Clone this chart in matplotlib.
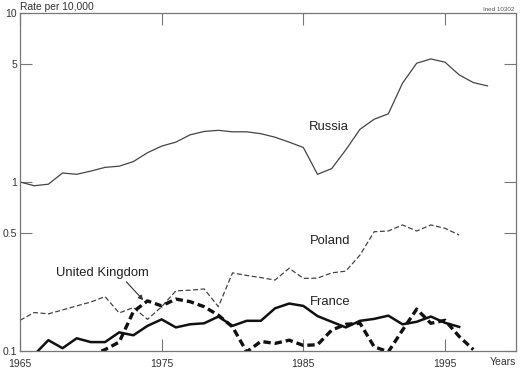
import matplotlib.pyplot as plt
from matplotlib.ticker import FixedLocator, NullLocator

plt.rcParams['font.family'] = ['Liberation Sans', 'DejaVu Sans']

# Russia 1965-1998
russia_years = list(range(1965, 1999))
russia = [1.00, 0.95, 0.97, 1.13, 1.11, 1.16, 1.22, 1.24, 1.32, 1.49,
          1.63, 1.72, 1.90, 1.99, 2.02, 1.98, 1.98, 1.93, 1.84, 1.72,
          1.60, 1.11, 1.20, 1.55, 2.05, 2.35, 2.53, 3.84, 5.04, 5.34,
          5.11, 4.30, 3.87, 3.70]

# Poland 1965-1996
poland_years = list(range(1965, 1997))
poland = [0.152, 0.169, 0.166, 0.175, 0.185, 0.195, 0.210, 0.168, 0.181, 0.154,
          0.183, 0.227, 0.229, 0.233, 0.183, 0.290, 0.280, 0.272, 0.263, 0.309,
          0.269, 0.270, 0.290, 0.297, 0.370, 0.508, 0.513, 0.557, 0.513, 0.557,
          0.532, 0.486]

# France 1966-1996
france_years = list(range(1966, 1997))
france = [0.095, 0.116, 0.104, 0.119, 0.113, 0.113, 0.129, 0.124, 0.141, 0.154,
          0.138, 0.144, 0.146, 0.160, 0.141, 0.151, 0.151, 0.179, 0.191, 0.185,
          0.161, 0.149, 0.138, 0.151, 0.155, 0.162, 0.144, 0.149, 0.160, 0.147,
          0.139]

# United Kingdom 1970-1997
uk_years = list(range(1970, 1998))
uk = [0.094, 0.102, 0.113, 0.171, 0.198, 0.185, 0.203, 0.196, 0.183, 0.163,
      0.139, 0.099, 0.114, 0.111, 0.116, 0.108, 0.109, 0.133, 0.144, 0.146,
      0.106, 0.099, 0.133, 0.177, 0.146, 0.152, 0.122, 0.102]

fig = plt.figure(figsize=(5.2, 3.68), dpi=100)
ax = fig.add_axes([0.0385, 0.046, 0.9535, 0.919])

ax.plot(russia_years, russia, color='#444444', lw=0.9)
ax.plot(poland_years, poland, color='#444444', lw=0.9, dashes=(4, 2))
ax.plot(france_years, france, color='#111111', lw=1.8)
ax.plot(uk_years, uk, color='#111111', lw=2.4, dashes=(2.2, 1.2))

ax.set_yscale('log')
ax.set_xlim(1965, 2000)
ax.set_ylim(0.1, 10)

ax.yaxis.set_major_locator(FixedLocator([0.1, 0.5, 1, 5, 10]))
ax.yaxis.set_minor_locator(NullLocator())
ax.set_yticklabels(['0.1', '0.5', '1', '5', '10'])
ax.set_xticks([1965, 1975, 1985, 1995])
ax.set_xticklabels(['1965', '1975', '1985', '1995'])

ax.tick_params(direction='in', length=8.5, width=0.8, color='#777777',
               top=True, right=True, labelsize=7.5, labelcolor='#333333')
ax.tick_params(axis='y', pad=2)
ax.tick_params(axis='x', pad=5.5)
for s in ax.spines.values():
    s.set_color('#777777')
    s.set_linewidth(0.9)

txt = dict(fontsize=9.4, color='#222222', ha='center', va='center')
ax.text(1986.8, 2.10, 'Russia', **txt)
ax.text(1986.9, 0.445, 'Poland', **txt)
ax.text(1986.9, 0.196, 'France', **txt)
ax.text(1970.8, 0.291, 'United Kingdom', **txt)
ax.annotate('', xy=(1973.7, 0.200), xytext=(1972.5, 0.257),
            arrowprops=dict(arrowstyle='-|>', color='#333333', lw=0.8,
                            mutation_scale=7, shrinkA=0, shrinkB=0))

fig.text(0.0385, 0.981, 'Rate per 10,000', fontsize=7.4, color='#333333',
         ha='left', va='center')
fig.text(0.99, 0.975, 'Ined 10302', fontsize=4.5, color='#555555',
         ha='right', va='center')
fig.text(0.992, 0.016, 'Years', fontsize=7.5, color='#333333',
         ha='right', va='center')

fig.savefig('out.png', dpi=100)
